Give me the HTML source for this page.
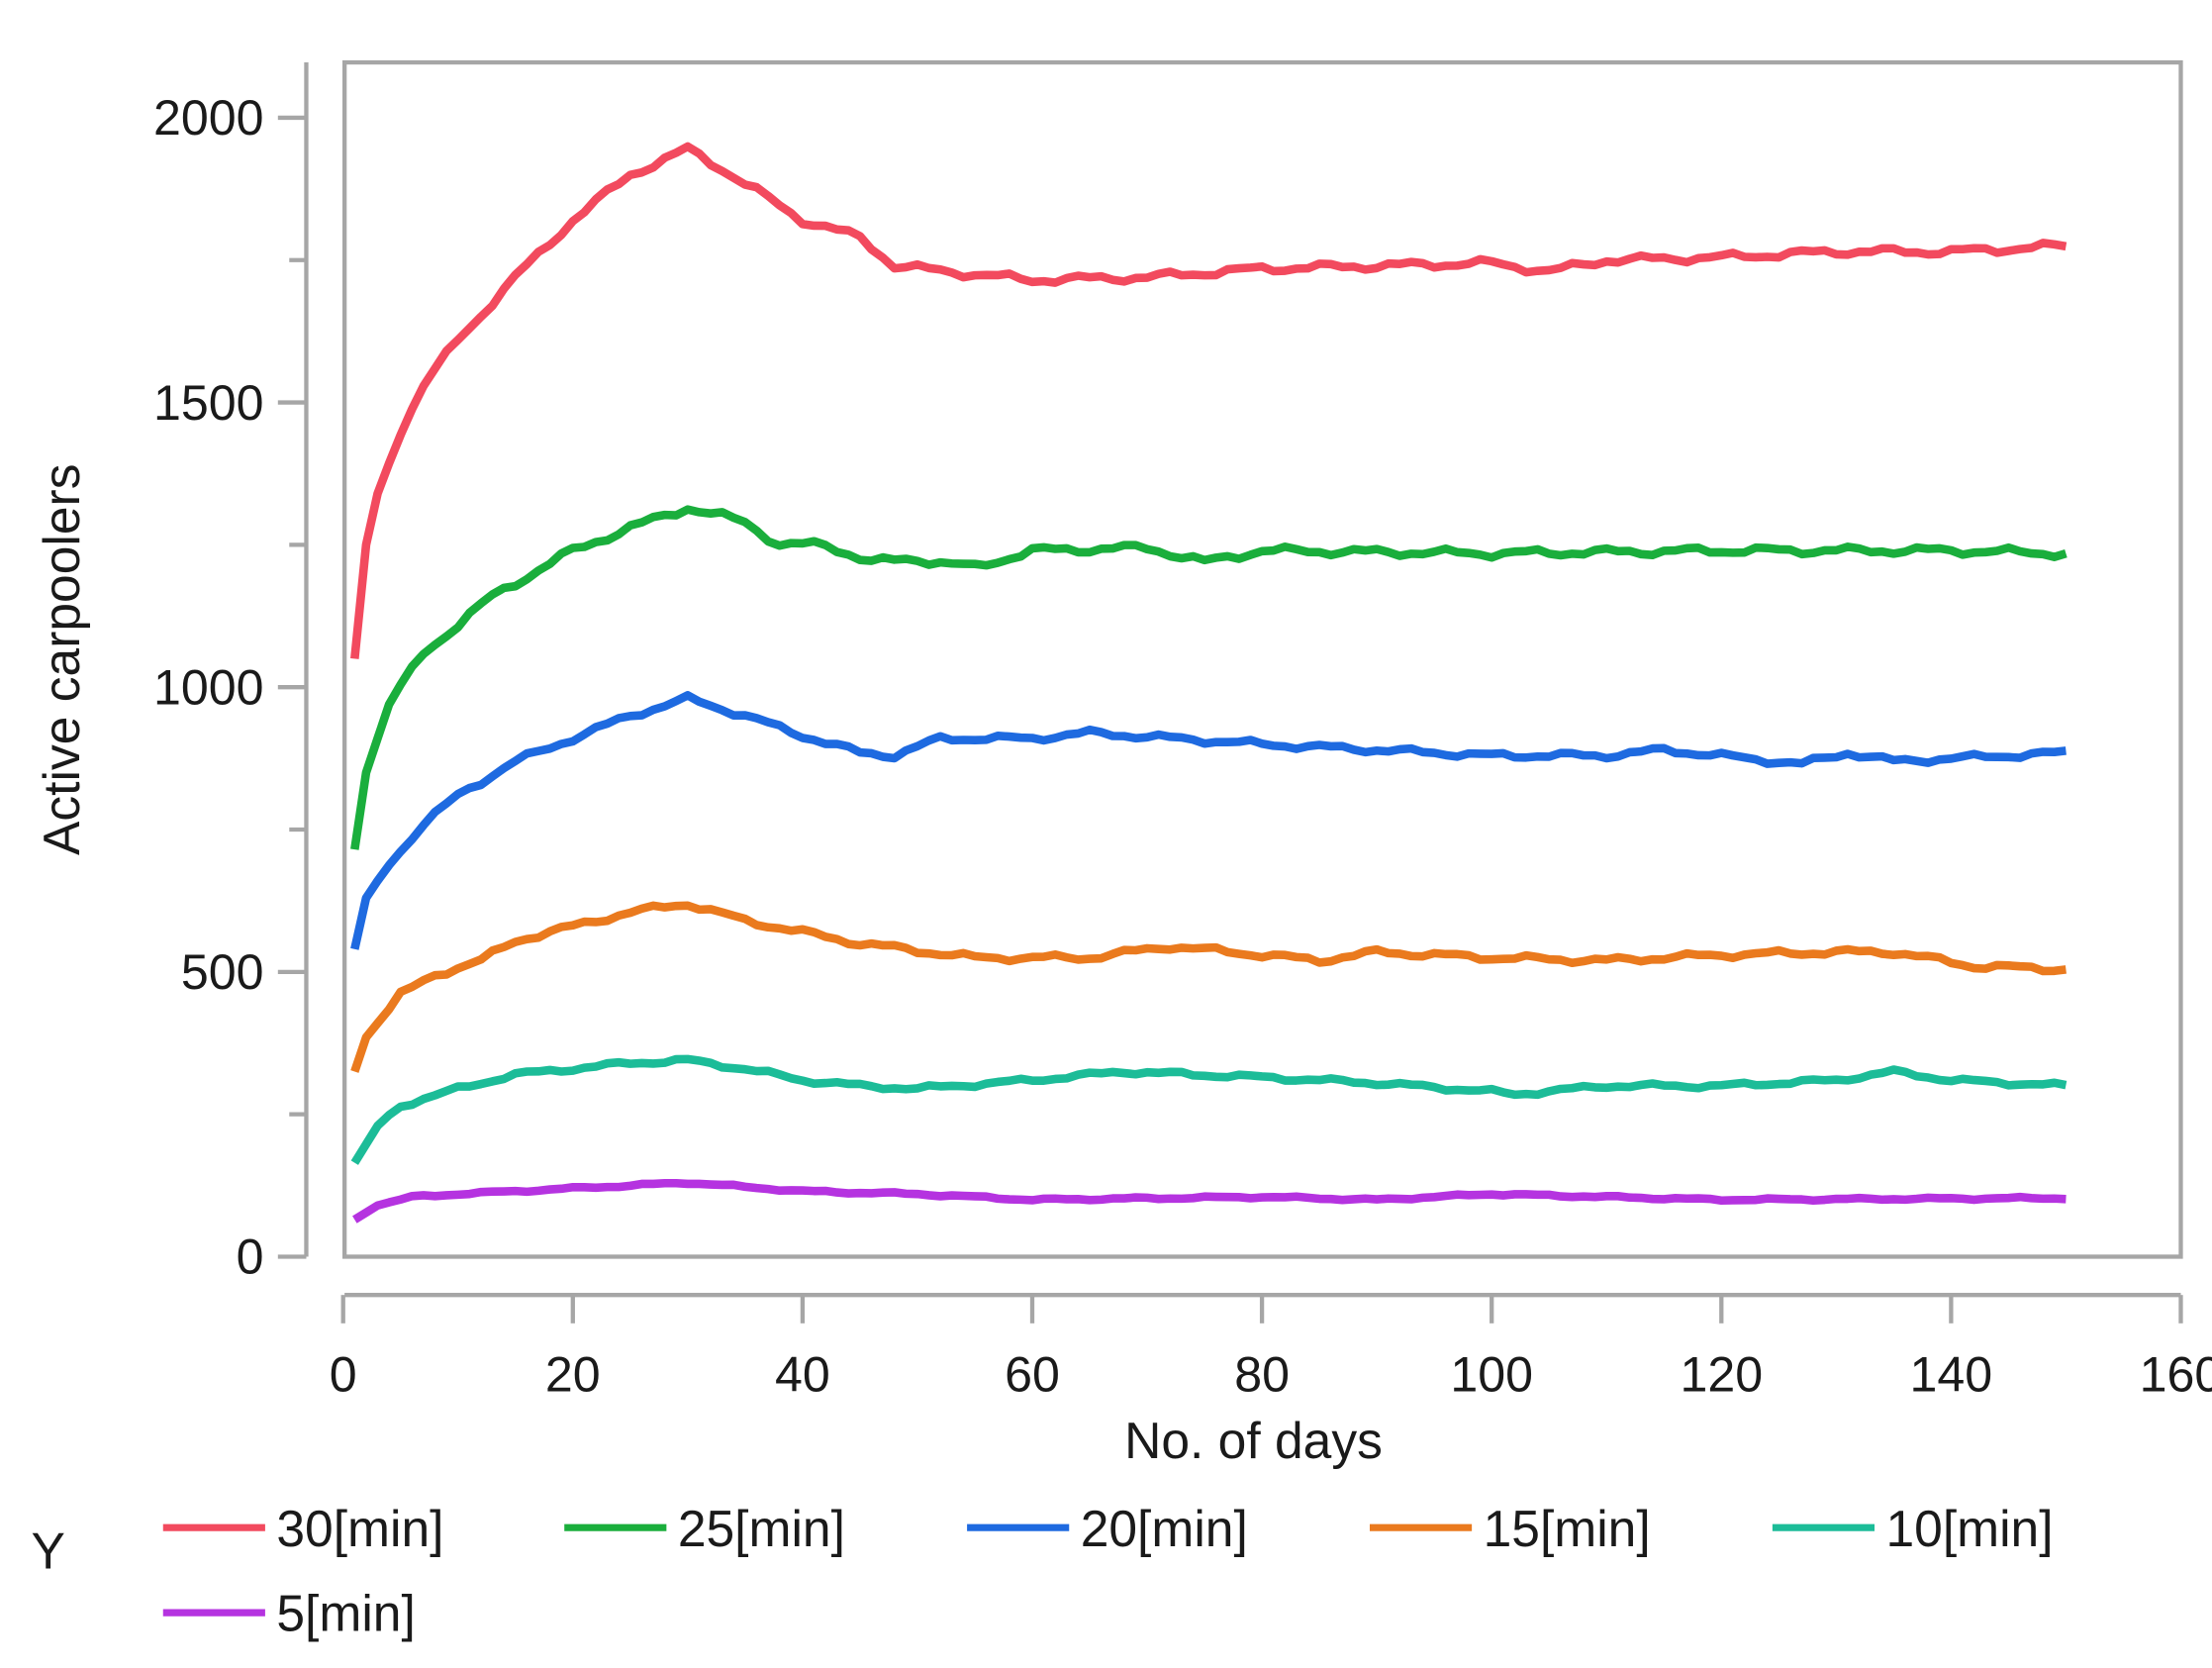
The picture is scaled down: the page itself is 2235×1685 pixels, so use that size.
<!DOCTYPE html>
<html><head><meta charset="utf-8"><style>
html,body{margin:0;padding:0;background:#fff;}
svg{display:block;}
text{font-family:"Liberation Sans",sans-serif;fill:#1a1a1a;}
</style></head><body>
<svg id="s" width="2235" height="1685" viewBox="0 0 1560 1176" preserveAspectRatio="none" xmlns="http://www.w3.org/2000/svg">
<rect x="0" y="0" width="1560" height="1176" fill="#fff"/>
<rect x="243" y="44" width="1295" height="842" fill="none" stroke="#a6a6a6" stroke-width="3"/>
<g id="axes" stroke="#a6a6a6" stroke-width="3"></g>
<g id="lbl" font-size="35"></g>
<g id="series" fill="none" stroke-width="6" stroke-linejoin="round" stroke-linecap="butt"></g>
<text x="44" y="465" font-size="36" text-anchor="middle" transform="rotate(-90 44 465)" dy="12">Active carpoolers</text>
<text x="884" y="1028" font-size="36" text-anchor="middle">No. of days</text>
<text x="22" y="1106" font-size="36">Y</text>
<g id="leg" font-size="36"></g>
</svg>
<script>
var NS="http://www.w3.org/2000/svg";
function el(p,t,a,txt){var e=document.createElementNS(NS,t);for(var k in a)e.setAttribute(k,a[k]);if(txt!==undefined)e.textContent=txt;document.getElementById(p).appendChild(e);}
function Y(v){return 886-v*0.4015;}
function X(d){return 242+d*8.1;}
el('axes','line',{x1:216,y1:44,x2:216,y2:886});
for(var v=0;v<=2000;v+=250){var maj=v%500==0;el('axes','line',{x1:maj?196:204,y1:Y(v),x2:216,y2:Y(v)});
if(maj)el('lbl','text',{x:186,y:Y(v)+12,'text-anchor':'end'},String(v));}
el('axes','line',{x1:243,y1:913,x2:1538,y2:913});
for(var d=0;d<=160;d+=20){el('axes','line',{x1:X(d),y1:913,x2:X(d),y2:933});
el('lbl','text',{x:X(d),y:981,'text-anchor':'middle'},String(d));}
var S=[
["#f24a5e",[[1,1050],[2,1250],[3,1340],[5,1450],[7,1530],[10,1610],[15,1720],[20,1820],[25,1900],[30,1945],[33,1910],[40,1820],[45,1790],[48,1740],[55,1725],[60,1715],[70,1720],[80,1735],[90,1740],[100,1745],[105,1730],[110,1750],[120,1755],[130,1765],[140,1765],[150,1775]]],
["#1aae3c",[[1,715],[2,850],[4,970],[7,1060],[10,1110],[13,1160],[20,1240],[25,1280],[30,1315],[35,1290],[38,1250],[42,1250],[46,1220],[50,1225],[55,1210],[60,1240],[70,1245],[75,1220],[80,1240],[100,1235],[120,1240],[130,1240],[140,1240],[150,1235]]],
["#1e6ae0",[[1,540],[2,630],[4,690],[7,760],[10,810],[15,870],[20,910],[25,950],[30,980],[35,950],[40,915],[45,885],[48,880],[52,910],[60,910],[65,920],[80,900],[100,880],[110,880],[115,890],[127,865],[131,885],[135,870],[150,885]]],
["#ea7a1e",[[1,325],[2,385],[5,460],[8,495],[12,520],[15,555],[20,580],[25,605],[30,620],[35,590],[40,570],[45,550],[55,525],[65,525],[72,545],[80,530],[85,520],[90,535],[100,525],[110,520],[120,530],[130,535],[135,535],[142,510],[150,505]]],
["#1cbc98",[[1,165],[3,230],[5,265],[10,295],[15,320],[20,330],[25,340],[30,345],[35,330],[40,310],[45,300],[50,295],[60,310],[68,325],[80,315],[90,305],[100,290],[102,285],[110,300],[120,300],[130,310],[135,325],[140,310],[150,300]]],
["#b533e0",[[1,65],[3,90],[6,105],[10,110],[20,120],[30,130],[40,115],[50,110],[60,100],[80,105],[90,100],[100,110],[110,105],[120,100],[150,103]]]];
S.forEach(function(s,si){var k=s[1],pts=[];for(var d=1;d<=150;d++){var j=0;while(k[j+1][0]<d)j++;var a=k[j],b=k[j+1];var t=(d-a[0])/(b[0]-a[0]);var v=a[1]+(b[1]-a[1])*t;
var amp=[5,5,4,4,3,1.5][si];if(d>3)v+=amp*(Math.sin(d*0.9+si*3)+0.5*Math.sin(d*2.3+si));pts.push(X(d).toFixed(1)+","+Y(v).toFixed(1));}
el('series','polyline',{points:pts.join(" "),stroke:s[0]});});
var L=[["30[min]",115,1077],["25[min]",398,1077],["20[min]",682,1077],["15[min]",966,1077],["10[min]",1250,1077],["5[min]",115,1137]];
L.forEach(function(l,i){el('leg','line',{x1:l[1],y1:l[2],x2:l[1]+72,y2:l[2],stroke:S[i][0],'stroke-width':5});el('leg','text',{x:l[1]+80,y:l[2]+13},l[0]);});
</script>
</body></html>
